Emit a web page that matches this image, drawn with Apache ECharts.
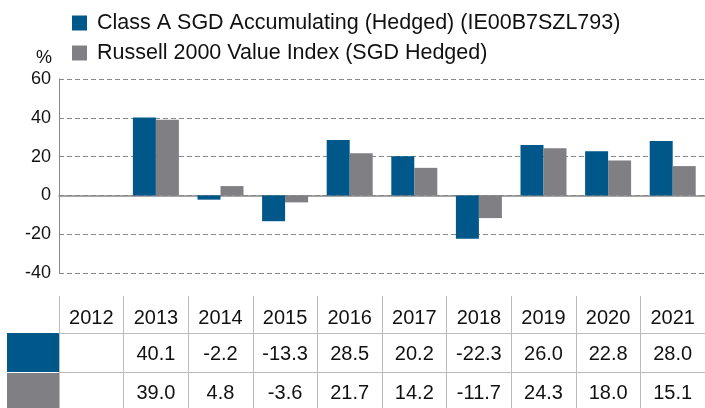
<!DOCTYPE html>
<html>
<head>
<meta charset="utf-8">
<script src="https://cdn.jsdelivr.net/npm/echarts@6/dist/echarts.min.js"></script>
<style>
  html, body { margin: 0; padding: 0; background: #fff; }
  #chart { width: 705px; height: 408px; }
</style>
</head>
<body>
<div id="chart"></div>
<script>
(function () {

    var years = ['2012', '2013', '2014', '2015', '2016', '2017', '2018', '2019', '2020', '2021'];
    var fundValues = [null, 40.1, -2.2, -13.3, 28.5, 20.2, -22.3, 26.0, 22.8, 28.0];
    var indexValues = [null, 39.0, 4.8, -3.6, 21.7, 14.2, -11.7, 24.3, 18.0, 15.1];
    var seriesNames = ['Class A SGD Accumulating (Hedged) (IE00B7SZL793)', 'Russell 2000 Value Index (SGD Hedged)'];

    var BLUE = '#00588A';
    var GREY = '#7F7F84';
    var FONT = 'Liberation Sans, Arial, sans-serif';
    var TABLE_LINE = '#BBBBBB';

    var fmt = function (arr) {
        return function (val, idx) {
            var v = arr[idx];
            return v == null ? '' : v.toFixed(1);
        };
    };

    // one grid per table row, the axis line is the top border, split lines the cell borders
    function tableAxis(gridIndex, formatter, margin) {
        return {
            type: 'category', gridIndex: gridIndex, data: years, position: 'top',
            boundaryGap: true,
            axisLine: { show: true, lineStyle: { color: TABLE_LINE, width: 1 } },
            axisTick: { show: false },
            splitLine: { show: true, interval: 0, lineStyle: { color: TABLE_LINE, width: 1 } },
            axisLabel: {
                inside: true, interval: 0, margin: margin, verticalAlign: 'middle',
                color: '#111', fontSize: 20, fontFamily: FONT, formatter: formatter
            }
        };
    }

    function hiddenY(gridIndex) {
        return { type: 'value', gridIndex: gridIndex, show: false, min: 0, max: 1 };
    }

    var chart = echarts.init(document.getElementById('chart'));

    chart.setOption({
        animation: false,
        textStyle: { fontFamily: FONT },
        legend: {
            orient: 'vertical', left: 67, top: 7,
            itemWidth: 15, itemHeight: 15, itemGap: 8, icon: 'rect',
            textStyle: { fontSize: 21.5, color: '#111', fontFamily: FONT, padding: [0, 0, 0, 5] },
            data: seriesNames
        },
        grid: [
            { left: 59, top: 79, width: 650, height: 194 },
            { left: 59, top: 296, width: 650, height: 37 },
            { left: 59, top: 333, width: 650, height: 39 },
            { left: 59, top: 372, width: 650, height: 40 }
        ],
        xAxis: [
            {
                type: 'category', gridIndex: 0, data: years,
                axisLine: { onZero: true, lineStyle: { color: '#888', width: 1.5 } },
                axisTick: { show: false }, axisLabel: { show: false }
            },
            tableAxis(1, function (val) { return val; }, 22),
            tableAxis(2, fmt(fundValues), 21),
            tableAxis(3, fmt(indexValues), 21)
        ],
        yAxis: [
            {
                type: 'value', gridIndex: 0, min: -40, max: 60, interval: 20,
                name: '%', nameLocation: 'end', nameGap: 12,
                nameTextStyle: { fontSize: 18, color: '#111', align: 'right', padding: [0, 7, 0, 0] },
                axisLine: { show: true, lineStyle: { color: '#888', width: 1 } },
                axisTick: { show: false },
                axisLabel: { fontSize: 18, color: '#111', margin: 8 },
                splitLine: { lineStyle: { color: '#888', type: [5, 3], width: 1 } }
            },
            hiddenY(1), hiddenY(2), hiddenY(3)
        ],
        graphic: [
            { type: 'rect', shape: { x: 7, y: 333, width: 52, height: 39 }, style: { fill: BLUE } },
            { type: 'rect', shape: { x: 7, y: 373, width: 52, height: 40 }, style: { fill: GREY } }
        ],
        series: [
            {
                name: seriesNames[0], type: 'bar', xAxisIndex: 0, yAxisIndex: 0,
                barWidth: 23, barGap: '0%', itemStyle: { color: BLUE }, data: fundValues
            },
            {
                name: seriesNames[1], type: 'bar', xAxisIndex: 0, yAxisIndex: 0,
                barWidth: 23, barGap: '0%', itemStyle: { color: GREY }, data: indexValues
            }
        ]
    });

})();
</script>
</body>
</html>
